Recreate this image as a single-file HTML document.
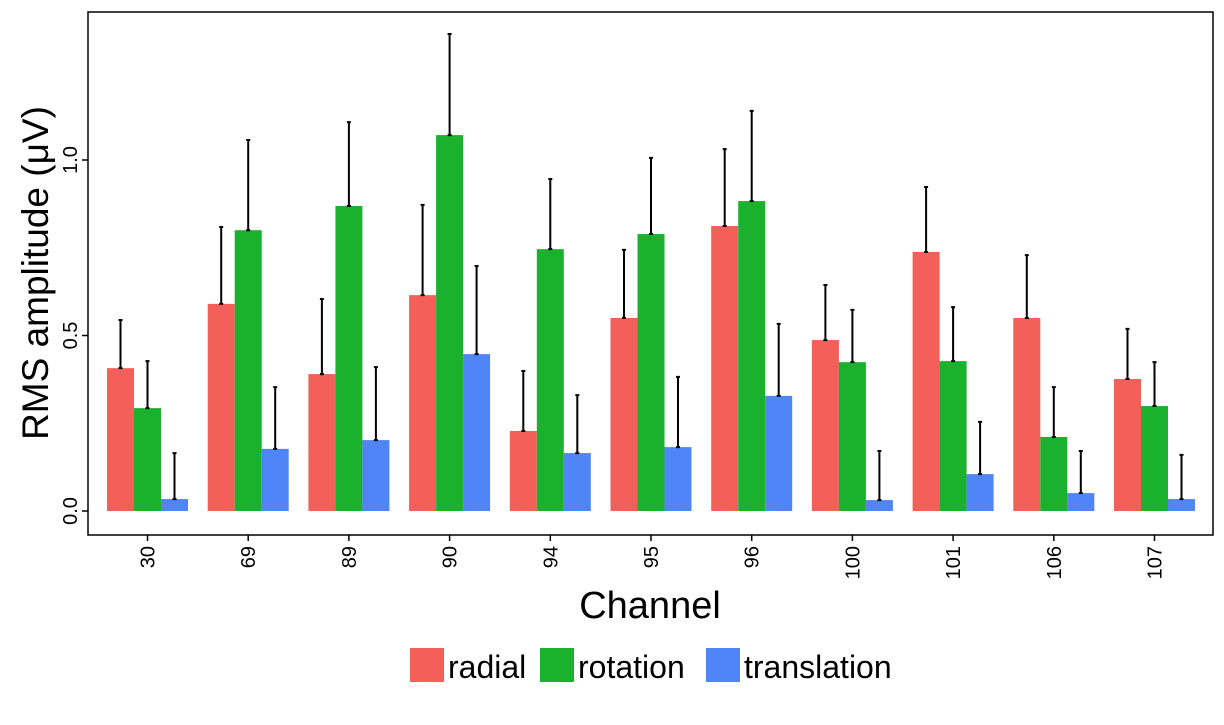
<!DOCTYPE html>
<html><head><meta charset="utf-8"><style>
body{margin:0;background:#fff;font-family:"Liberation Sans",Arial,sans-serif}
</style></head><body>
<svg id="chart" width="1224" height="720" xmlns="http://www.w3.org/2000/svg" font-family="Liberation Sans, Arial, sans-serif">
<rect x="88" y="12" width="1125" height="523" fill="none" stroke="#000" stroke-width="1.5"/>
<g id="bars"></g>
<g id="axes"></g>
<text x="650" y="618" font-size="38" text-anchor="middle">Channel</text>
<text transform="translate(48,273) rotate(-90)" font-size="37" text-anchor="middle">RMS amplitude (μV)</text>
<g>
<rect x="410" y="648" width="34" height="34" fill="#F35F59"/>
<text x="448" y="678" font-size="32">radial</text>
<rect x="540" y="648" width="34" height="34" fill="#1AB12E"/>
<text x="578" y="678" font-size="32">rotation</text>
<rect x="706" y="648" width="34" height="34" fill="#5085F8"/>
<text x="744" y="678" font-size="32">translation</text>
</g>
</svg>
<script>
const categories=["30","69","89","90","94","95","96","100","101","106","107"];
const radial=[0.407,0.590,0.390,0.615,0.228,0.550,0.812,0.487,0.738,0.550,0.376];
const radialErr=[0.544,0.809,0.604,0.872,0.399,0.744,1.031,0.644,0.923,0.729,0.519];
const rotation=[0.293,0.800,0.869,1.071,0.746,0.789,0.883,0.424,0.427,0.211,0.299];
const rotationErr=[0.427,1.057,1.108,1.359,0.946,1.006,1.140,0.573,0.581,0.353,0.424];
const translation=[0.034,0.177,0.202,0.447,0.165,0.182,0.328,0.031,0.105,0.051,0.034];
const translationErr=[0.165,0.353,0.410,0.698,0.330,0.382,0.533,0.171,0.254,0.171,0.160];
const yTicks=[0,0.5,1.0];
const yTickLabels=["0.0","0.5","1.0"];
const NS="http://www.w3.org/2000/svg";
const y=v=>511-v*351;
const x=i=>147.5+i*100.7;
const bw=27;
const series=[["radial",radial,radialErr,"#F35F59"],["rotation",rotation,rotationErr,"#1AB12E"],["translation",translation,translationErr,"#5085F8"]];
const gb=document.getElementById('bars'),ga=document.getElementById('axes');
function mk(tag,attrs,parent){const e=document.createElementNS(NS,tag);for(const k in attrs)e.setAttribute(k,attrs[k]);parent.appendChild(e);return e;}
categories.forEach((c,i)=>{
 series.forEach((s,j)=>{
  const bx=x(i)-1.5*bw+j*bw,v=s[1][i],e=s[2][i];
  const r=mk('rect',{x:bx,y:y(v),width:bw,height:y(0)-y(v),fill:s[3]},gb);
  
  
  const cx=bx+bw/2;
  const l=mk('path',{d:`M${cx},${y(v)}V${y(e)}M${cx-2},${y(e)}H${cx+2}M${cx-2},${y(v)}H${cx+2}`,stroke:'#000','stroke-width':2,fill:'none'},gb);
  
  
 });
 mk('line',{x1:x(i),x2:x(i),y1:535,y2:541,stroke:'#000','stroke-width':1.5},ga);
 const t=mk('text',{transform:`translate(${x(i)+7},546) rotate(-90)`,'font-size':20,'text-anchor':'end'},ga);
 t.textContent=c;
 
 
});
yTicks.forEach((v,k)=>{
 mk('line',{x1:82,x2:88,y1:y(v),y2:y(v),stroke:'#000','stroke-width':1.5},ga);
 const t=mk('text',{transform:`translate(77,${y(v)}) rotate(-90)`,'font-size':20,'text-anchor':'middle'},ga);
 t.textContent=yTickLabels[k];
 
 
});
</script>
</body></html>
